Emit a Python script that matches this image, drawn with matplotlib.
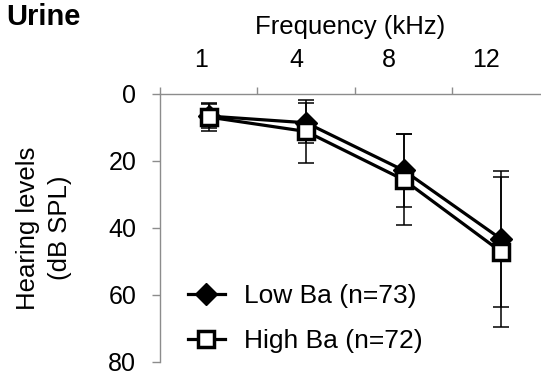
"""Hearing levels by frequency, low vs high urinary Ba."""

import matplotlib

matplotlib.use("Agg")

import matplotlib.pyplot as plt
import numpy as np

plt.rcParams["font.family"] = ["Liberation Sans", "DejaVu Sans"]

freqs = ["1", "4", "8", "12"]
low_mean = [6.6, 8.6, 22.8, 43.3]
low_sd = [3.6, 5.9, 10.8, 20.3]
high_mean = [6.9, 11.2, 25.6, 47.1]
high_sd = [4.3, 9.3, 13.5, 22.4]
labels = ["Low Ba (n=73)", "High Ba (n=72)"]

GREY = "#8c8c8c"

fig = plt.figure(figsize=(5.41, 3.79), dpi=100)
ax = fig.add_axes([0.2957, 0.0449, 0.7043, 0.7072])

x = np.arange(len(freqs)) + 0.5

ax.errorbar(x, low_mean, yerr=low_sd, fmt="none", ecolor="black", elinewidth=1.1, capsize=6, capthick=1.1, zorder=2)
ax.errorbar(x, high_mean, yerr=high_sd, fmt="none", ecolor="black", elinewidth=1.1, capsize=6, capthick=1.1, zorder=2)
ax.plot(x, low_mean, color="black", lw=2.3, marker="D", ms=11, mfc="black", mec="black", label=labels[0], zorder=3)
ax.plot(x, high_mean, color="black", lw=2.3, marker="s", ms=12, mfc="white", mec="black", mew=2.5, label=labels[1], zorder=4)

ax.set_xlim(0, 3.91)
ax.set_ylim(80, 0)

for s in ["bottom", "right"]:
    ax.spines[s].set_visible(False)
for s in ["top", "left"]:
    ax.spines[s].set_color(GREY)
    ax.spines[s].set_linewidth(1.0)

ax.xaxis.set_ticks_position("top")
ax.set_xticks(np.arange(0, 4))
ax.set_xticklabels([])
ax.set_xticks(x - np.array([0.08, 0.1, 0.15, 0.15]), minor=True)
ax.set_xticklabels(freqs, minor=True)
ax.tick_params(axis="x", which="major", length=5, color=GREY, width=1.0, direction="out")
ax.tick_params(axis="x", which="minor", length=0, pad=16, labelsize=18)

ax.set_yticks([0, 20, 40, 60, 80])
ax.tick_params(axis="y", length=6, color=GREY, width=1.0, direction="out", labelsize=18, pad=11)

ax.set_xlabel("Frequency (kHz)", fontsize=18.5, labelpad=10)
ax.xaxis.set_label_position("top")
ax.set_ylabel("Hearing levels\n(dB SPL)", fontsize=18.5, labelpad=26, linespacing=1.45)

fig.text(0.012, 0.955, "Urine", fontsize=21, fontweight="bold", va="center", ha="left")

ax.legend(
    loc="lower left", bbox_to_anchor=(0.0735, 0.034), frameon=False, fontsize=19,
    handlelength=1.4, handletextpad=0.72, labelspacing=0.78, borderaxespad=0, borderpad=0,
)

fig.savefig("out.png", dpi=100)
